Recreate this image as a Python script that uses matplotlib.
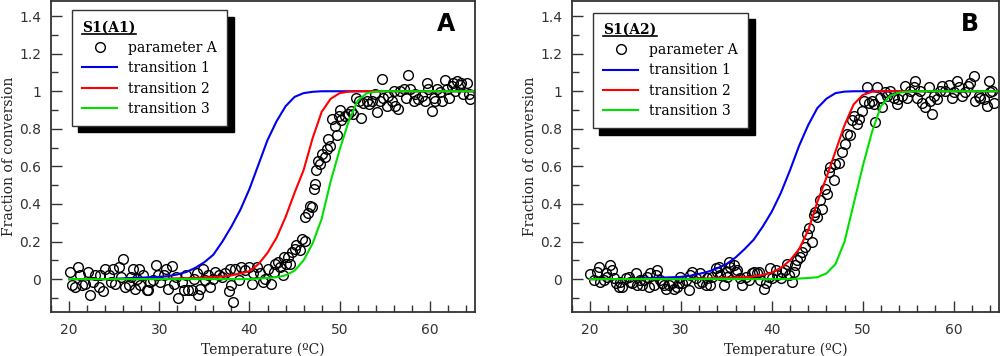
import matplotlib.pyplot as plt
from matplotlib.lines import Line2D
from matplotlib.ticker import MultipleLocator, FuncFormatter

plt.rcParams['font.family'] = 'DejaVu Sans'

# temperaturas de las curvas (una por grado)
temp_curva = list(range(20, 66))

# panel A - curvas de transicion
trans1_a = [0, 0, 0, 0, 0, 0.002, 0.004, 0.006, 0.008, 0.01,
            0.012, 0.016, 0.025, 0.038, 0.06, 0.09, 0.13, 0.2, 0.28, 0.37,
            0.48, 0.61, 0.74, 0.84, 0.92, 0.97, 0.99, 0.997] + [1.0] * 18
trans2_a = [0] * 11 + [0.003, 0.004, 0.005, 0.006, 0.008, 0.01, 0.014, 0.02, 0.03,
                       0.042, 0.08, 0.14, 0.22, 0.33, 0.46, 0.58, 0.75, 0.89, 0.96,
                       0.99, 0.998] + [1.0] * 14
trans3_a = [0] * 21 + [0.003, 0.006, 0.01, 0.02, 0.045, 0.1, 0.19, 0.32, 0.52,
                       0.69, 0.84, 0.95, 0.99, 0.998] + [1.0] * 11

# panel B - curvas de transicion
trans1_b = [0, 0, 0, 0, 0, 0.002, 0.004, 0.006, 0.008, 0.01,
            0.012, 0.018, 0.028, 0.04, 0.058, 0.08, 0.115, 0.16, 0.21, 0.28,
            0.36, 0.46, 0.58, 0.71, 0.82, 0.91, 0.96, 0.99, 0.998] + [1.0] * 17
trans2_b = [0] * 11 + [0.002, 0.003, 0.004, 0.005, 0.006, 0.008, 0.01, 0.014, 0.022,
                       0.035, 0.06, 0.1, 0.16, 0.26, 0.41, 0.54, 0.68, 0.82, 0.93,
                       0.98, 0.997] + [1.0] * 14
trans3_b = [0] * 23 + [0.003, 0.006, 0.01, 0.03, 0.08, 0.2, 0.4, 0.6, 0.78,
                       0.92, 0.975, 0.993, 0.998] + [1.0] * 10

# panel A - puntos medidos (parameter A)
temp_a = [20.1, 20.3, 20.7, 21.0, 21.2, 21.4, 21.8, 22.1, 22.3, 22.7, 22.9, 23.3, 23.4, 23.8,
          24.0, 24.4, 24.7, 24.9, 25.1, 25.5, 26.0, 25.8, 26.2, 26.6, 26.9, 27.1, 27.3, 27.5,
          27.8, 27.9, 28.2, 28.6, 28.8, 29.0, 29.3, 29.6, 29.9, 30.1, 30.5, 30.8, 31.0, 31.4,
          31.6, 31.9, 32.1, 32.5, 32.7, 33.0, 33.2, 33.6, 33.8, 34.2, 34.3, 34.5, 34.9, 35.1,
          35.4, 35.6, 36.0, 36.2, 36.6, 36.9, 37.3, 37.7, 37.8, 38.0, 38.2, 38.4, 38.8, 39.1,
          39.5, 39.9, 40.3, 40.4, 40.8, 41.2, 41.5, 41.7, 42.1, 42.4, 42.7, 42.8, 43.2, 43.4,
          43.7, 43.8, 44.1, 44.3, 44.5, 44.7, 45.1, 45.2, 45.6, 45.8, 46.2, 46.2, 46.5, 46.7,
          46.9, 47.1, 47.3, 47.4, 47.6, 47.8, 48.0, 48.4, 48.6, 48.7, 48.9, 49.1, 49.5, 49.7,
          49.9, 50.0, 50.2, 50.6, 50.9, 51.2, 51.5, 51.8, 52.1, 52.4, 52.6, 53.0, 53.2, 53.6,
          53.9, 54.1, 54.5, 54.7, 54.8, 55.2, 55.4, 55.8, 56.0, 56.1, 56.5, 56.7, 57.1, 57.4,
          57.6, 57.8, 58.2, 58.4, 58.7, 59.1, 59.5, 59.7, 59.8, 60.2, 60.4, 60.6, 60.8, 61.1,
          61.3, 61.7, 61.9, 62.1, 62.4, 62.6, 62.8, 63.0, 63.3, 63.5, 63.7, 64.1, 64.3, 64.5]
frac_a = [0.04, -0.03, -0.04, 0.065, 0.02, -0.03, -0.025, 0.04, -0.085, -0.015, 0.02, -0.04, 0.02, -0.065,
          0.055, 0.02, -0.015, 0.055, -0.025, 0.065, 0.105, 0.01, -0.04, -0.03, 0.01, 0.055, -0.05, 0.0,
          0.055, -0.03, 0.02, -0.06, -0.06, -0.015, -0.005, 0.075, 0.02, -0.015, 0.02, 0.055, -0.05, 0.07,
          -0.025, 0.01, -0.1, -0.015, -0.06, 0.02, -0.06, -0.06, 0.0, 0.03, -0.085, -0.05, 0.055, -0.005,
          0.02, -0.04, 0.0, 0.04, 0.02, 0.01, 0.03, -0.065, 0.055, -0.03, -0.12, 0.055, -0.005, 0.065,
          0.048, 0.065, -0.025, 0.03, 0.065, 0.03, -0.015, 0.0, 0.055, -0.025, 0.04, 0.083, 0.09, 0.065,
          0.02, 0.12, 0.083, 0.12, 0.083, 0.145, 0.16, 0.18, 0.155, 0.215, 0.205, 0.33, 0.35, 0.39,
          0.385, 0.48, 0.505, 0.58, 0.63, 0.615, 0.665, 0.65, 0.69, 0.745, 0.71, 0.85, 0.815, 0.765,
          0.87, 0.9, 0.845, 0.87, 0.88, 0.895, 0.88, 0.965, 0.95, 0.86, 0.94, 0.95, 0.93, 0.95,
          0.985, 0.89, 0.95, 1.065, 0.965, 0.92, 0.975, 0.95, 1.0, 0.92, 0.905, 1.0, 1.01, 0.965,
          1.085, 1.01, 0.95, 0.985, 0.96, 0.975, 0.95, 1.045, 1.01, 0.895, 0.965, 0.95, 1.01, 0.995,
          0.95, 1.06, 1.01, 0.965, 1.03, 1.045, 1.0, 1.055, 1.035, 1.045, 0.985, 1.045, 0.985, 0.96]

# panel B - puntos medidos (parameter A)
temp_b = [20.0, 20.4, 20.8, 21.0, 21.1, 21.5, 21.7, 21.9, 22.2, 22.4, 22.6, 22.8, 23.2, 23.3,
          23.5, 23.9, 24.3, 24.4, 24.6, 25.0, 25.2, 25.5, 25.7, 25.9, 26.3, 26.5, 26.6, 27.0,
          27.2, 27.4, 27.7, 27.9, 28.1, 28.3, 28.7, 29.0, 29.2, 29.6, 29.8, 29.9, 30.1, 30.5,
          30.9, 31.0, 31.2, 31.6, 32.0, 32.1, 32.3, 32.7, 32.9, 33.2, 33.4, 33.8, 34.0, 34.2,
          34.3, 34.7, 34.9, 35.1, 35.3, 35.4, 35.8, 36.0, 36.2, 36.5, 36.7, 37.1, 37.5, 37.8,
          38.0, 38.4, 38.6, 38.7, 39.1, 39.3, 39.7, 39.8, 40.0, 40.4, 40.6, 41.0, 41.1, 41.5,
          41.7, 41.9, 42.2, 42.4, 42.6, 42.8, 43.1, 43.3, 43.7, 43.9, 44.1, 44.4, 44.6, 44.8,
          45.0, 45.3, 45.5, 45.9, 46.1, 46.3, 46.4, 46.8, 47.0, 47.4, 47.7, 48.1, 48.3, 48.6,
          48.8, 49.0, 49.4, 49.6, 49.9, 50.1, 50.5, 50.7, 51.0, 51.2, 51.4, 51.6, 51.9, 52.1,
          52.5, 52.7, 53.0, 53.4, 53.8, 53.9, 54.3, 54.7, 54.9, 55.2, 55.6, 55.8, 56.0, 56.3,
          56.5, 56.9, 57.3, 57.4, 57.6, 57.8, 58.2, 58.5, 58.7, 59.1, 59.5, 59.8, 60.0, 60.4,
          60.6, 60.9, 61.3, 61.6, 61.8, 62.2, 62.4, 62.8, 62.9, 63.3, 63.7, 63.9, 64.0, 64.2, 64.4]
frac_b = [0.027, -0.005, 0.04, 0.065, -0.015, -0.005, 0.03, 0.012, 0.075, 0.048, 0.004, -0.023, -0.04, -0.014,
          -0.04, 0.004, 0.012, -0.014, -0.023, 0.03, -0.03, -0.005, -0.03, -0.005, 0.012, -0.04, 0.03, -0.03,
          0.021, 0.048, -0.005, -0.023, -0.03, -0.05, -0.03, -0.023, -0.05, -0.04, -0.023, 0.012, -0.023, -0.005,
          -0.058, 0.021, 0.039, 0.004, -0.023, 0.03, -0.014, -0.03, 0.004, -0.03, 0.012, 0.057, 0.039, 0.065,
          0.021, -0.03, 0.039, 0.012, 0.092, 0.065, 0.075, 0.039, 0.048, 0.004, -0.03, 0.012, -0.005, 0.03,
          0.039, 0.03, 0.039, -0.005, -0.05, -0.023, 0.012, 0.057, 0.004, 0.048, 0.021, 0.004, 0.039, 0.048,
          0.083, 0.021, -0.014, 0.039, 0.075, 0.1, 0.118, 0.145, 0.17, 0.24, 0.27, 0.2, 0.34, 0.357,
          0.33, 0.42, 0.375, 0.48, 0.455, 0.57, 0.595, 0.525, 0.613, 0.62, 0.675, 0.72, 0.77, 0.765,
          0.845, 0.87, 0.825, 0.85, 0.895, 0.95, 1.02, 0.94, 0.95, 0.93, 0.835, 1.02, 0.965, 0.915,
          0.995, 0.975, 1.0, 0.965, 0.93, 0.96, 0.975, 1.03, 0.965, 1.0, 1.02, 1.055, 0.965, 1.0,
          0.94, 0.915, 1.02, 0.95, 0.88, 0.975, 0.96, 1.0, 1.03, 1.0, 1.035, 0.965, 0.995, 1.055,
          1.02, 0.975, 0.995, 1.03, 1.045, 1.08, 0.95, 0.975, 0.965, 0.96, 0.92, 1.055, 0.995, 1.0, 0.94]

etiquetas_curvas = ['transition 1', 'transition 2', 'transition 3']
colores_curvas = ['#0000ee', '#ff0000', '#00e000']

gris = '#333333'
fuente_serif = 'DejaVu Serif'


def graficar_panel(ax, temps, fracs, curvas, titulo, letra, pos_leyenda):
    ax.plot(temps, fracs, 'o', mfc='none', mec='black', ms=7, mew=1.0,
            label='parameter A')
    for valores, etiqueta, color in zip(curvas, etiquetas_curvas, colores_curvas):
        ax.plot(temp_curva, valores, color=color, lw=1.5, label=etiqueta)

    ax.set_xlim(18, 65)
    ax.set_ylim(-0.175, 1.48)

    ax.xaxis.set_major_locator(MultipleLocator(10))
    ax.xaxis.set_minor_locator(MultipleLocator(2))
    ax.yaxis.set_major_locator(MultipleLocator(0.2))
    ax.yaxis.set_minor_locator(MultipleLocator(0.1))
    ax.yaxis.set_major_formatter(FuncFormatter(lambda v, p: '%g' % round(v, 1)))

    ax.tick_params(which='both', direction='in', colors=gris, top=False, right=False,
                   labelsize=10, width=1)
    ax.tick_params(which='major', length=8)
    ax.tick_params(which='minor', length=5)
    ax.tick_params(axis='x', which='both', pad=8)
    ax.tick_params(axis='y', which='both', pad=7)

    for lado in ax.spines.values():
        lado.set_color(gris)
        lado.set_linewidth(1.3)

    ax.set_xlabel('Temperature (ºC)', family=fuente_serif, fontsize=10, color='#222222', labelpad=4)
    ax.set_ylabel('Fraction of conversion', family=fuente_serif, fontsize=10, color='#222222', labelpad=2.5)

    ax.text(0.953, 0.925, letra, transform=ax.transAxes, ha='right', va='center',
            fontsize=17, fontweight='bold', color='black')

    leyenda = ax.legend(title=titulo,
                        loc='upper left', bbox_to_anchor=pos_leyenda, borderaxespad=0,
                        fancybox=False, framealpha=1,
                        shadow={'ox': 4.5, 'oy': -4.5, 'color': 'black', 'alpha': 1},
                        prop={'family': fuente_serif, 'size': 10}, alignment='left',
                        handlelength=2.5, handletextpad=0.8, borderpad=0.75,
                        labelspacing=0.45, numpoints=1)
    leyenda.get_title().set_fontproperties({'family': fuente_serif, 'size': 10, 'weight': 'bold'})
    marco = leyenda.get_frame()
    marco.set_edgecolor(gris)
    marco.set_linewidth(1)
    return leyenda


fig = plt.figure(figsize=(10, 3.56), dpi=100)
ax_a = fig.add_axes([0.051, 0.1236, 0.424, 0.8734])
ax_b = fig.add_axes([0.572, 0.1236, 0.427, 0.8734])

leg_a = graficar_panel(ax_a, temp_a, frac_a, [trans1_a, trans2_a, trans3_a], 'S1(A1)', 'A', (0.0495, 0.97))
leg_b = graficar_panel(ax_b, temp_b, frac_b, [trans1_b, trans2_b, trans3_b], 'S1(A2)', 'B', (0.049, 0.963))

# subrayado del titulo de la leyenda (mathtext no tiene \underline)
fig.canvas.draw()
for leg in [leg_a, leg_b]:
    caja = leg.get_title().get_window_extent()
    y_linea = caja.y0 + 1
    fig.add_artist(Line2D([caja.x0, caja.x1], [y_linea, y_linea], transform=None,
                          color='black', lw=1.2, zorder=10))

plt.savefig('out.png', dpi=100)
plt.close()
